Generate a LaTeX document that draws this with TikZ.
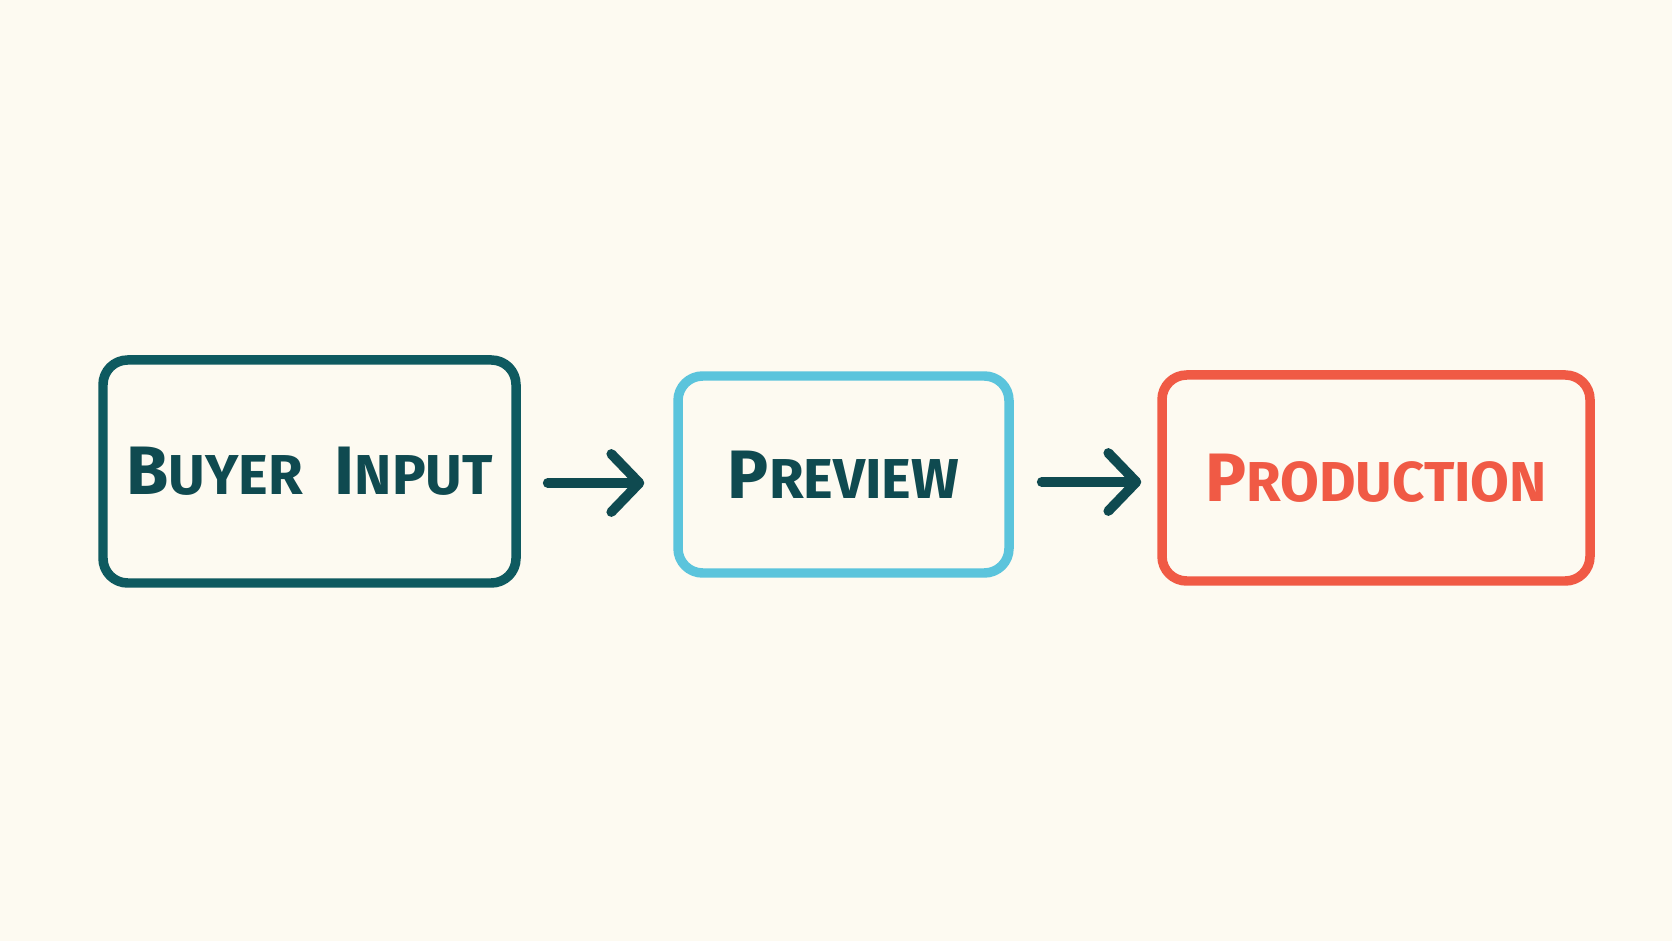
\documentclass[tikz,border=0pt]{standalone}
\usepackage{fontspec}
\setmainfont{Fira Sans}
\usetikzlibrary{arrows.meta}

\definecolor{paper}{HTML}{FDFAF1}
\definecolor{inkteal}{HTML}{0E5A60}
\definecolor{inkdark}{HTML}{0F4A50}
\definecolor{inkblue}{HTML}{5BC4DC}
\definecolor{inkred}{HTML}{F05A45}

\newcommand{\firstletter}[1]{{\fontsize{19.5}{19.5}\selectfont #1}}

\begin{document}
\begin{tikzpicture}[
    stage/.style={rectangle, line width=2.7pt, minimum width=#1, rounded corners=7pt, align=center,
                  inner sep=0pt, font=\bfseries\fontsize{16}{16}\selectfont},
    arrow/.style={-{Straight Barb[length=2.8mm, width=5.8mm, line cap=round, round]}, line width=2.8pt,
                  line cap=round, inkdark}
]

% Paper
\fill[paper] (0,0) rectangle (16.72,9.41);
\useasboundingbox (0,0) rectangle (16.72,9.41);

% Stages
\node[stage=4.13cm, draw=inkteal, text=inkdark, minimum height=2.23cm] (buyer) at (3.095,4.695)
    {\firstletter{B}UYER\hspace{0.32cm}\firstletter{I}NPUT};
\node[stage=3.31cm, draw=inkblue, text=inkdark, minimum height=1.97cm] (preview) at (8.435,4.665)
    {\firstletter{P}REVIEW};
\node[stage=4.28cm, draw=inkred, text=inkred, minimum height=2.06cm] (production) at (13.76,4.63)
    {\firstletter{P}RODUCTION};

% Arrows
\draw[arrow] ([xshift=0.27cm]buyer.east |- 0,4.58) -- ([xshift=-0.29cm]preview.west |- 0,4.58);
\draw[arrow] ([xshift=0.28cm]preview.east |- 0,4.59) -- ([xshift=-0.16cm]production.west |- 0,4.59);

\end{tikzpicture}
\end{document}
